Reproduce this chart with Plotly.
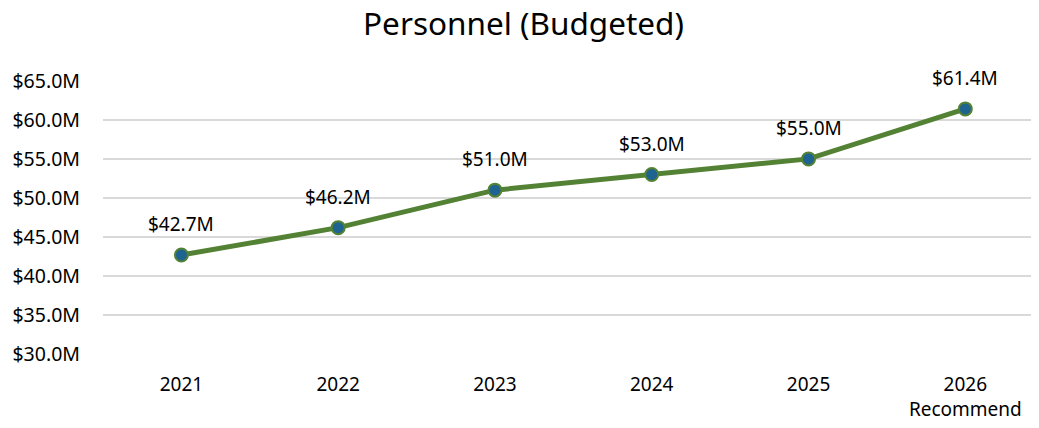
import plotly.graph_objects as go

# Datos
years = ["2021", "2022", "2023", "2024", "2025", "2026"]
year_labels = ["2021", "2022", "2023", "2024", "2025", "2026<br>Recommend"]
budget = [42.7, 46.2, 51.0, 53.0, 55.0, 61.4]
y_ticks = [30, 35, 40, 45, 50, 55, 60, 65]

FONT = "Noto Sans"

fig = go.Figure()

fig.add_trace(go.Scatter(
    x=years,
    y=budget,
    mode="lines+markers",
    line=dict(color="#548235", width=5),
    marker=dict(size=13, color="#1F6391", line=dict(color="#548235", width=2)),
    name="Personnel",
    cliponaxis=False,
))

# Etiquetas de datos (posición por índice de categoría)
for i, y in enumerate(budget):
    fig.add_annotation(
        x=i, y=y, text=f"${y:.1f}M", showarrow=False, yshift=31,
        font=dict(family=FONT, size=19, color="#000000"),
    )

fig.update_layout(
    title=dict(text="Personnel (Budgeted)", x=0.5, xanchor="center", y=0.962, yanchor="middle",
               font=dict(family=FONT, size=31.5, color="#000000")),
    width=1031, height=420,
    margin=dict(l=95, r=0, t=72, b=73, autoexpand=False),
    plot_bgcolor="white", paper_bgcolor="white",
    showlegend=False,
    font=dict(family=FONT, size=18, color="#000000"),
)

fig.update_xaxes(
    type="category", range=[-0.5, 5.47], tickmode="array", tickvals=years, ticktext=year_labels,
    showgrid=False, showline=False, ticks="", automargin=False, tickangle=0,
    ticklabelstandoff=16,
    tickfont=dict(family=FONT, size=19, color="#000000"),
)

fig.update_yaxes(
    range=[29.9, 65.1], tickvals=y_ticks, ticktext=[f"${v:.1f}M" for v in y_ticks],
    showgrid=True, gridcolor="#D9D9D9", gridwidth=1.5, zeroline=False, showline=False,
    ticks="", ticklabelstandoff=22, automargin=False,
    tickfont=dict(family=FONT, size=19.5, color="#000000"),
)

fig.write_html("out.html")
